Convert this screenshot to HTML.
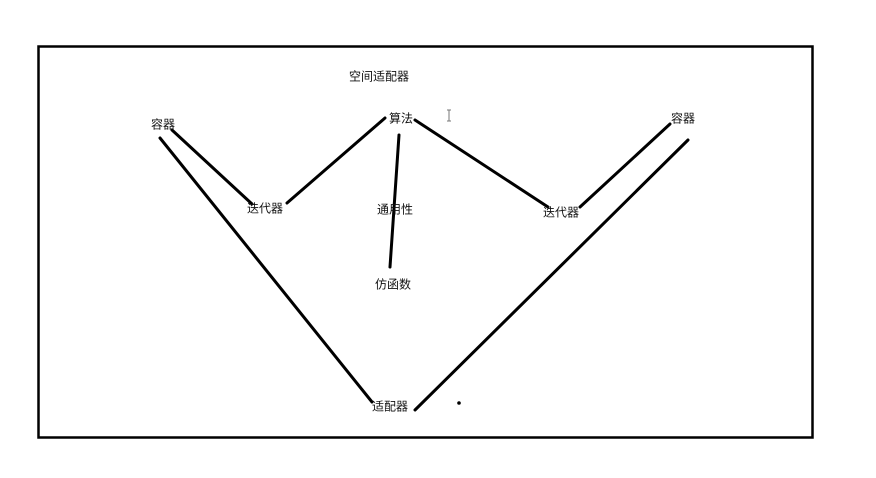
<!DOCTYPE html>
<html><head><meta charset="utf-8">
<style>
html,body{margin:0;padding:0;background:#fff;}
svg{display:block;}
text{font-family:"Liberation Sans","Noto Sans CJK SC","WenQuanYi Zen Hei",sans-serif;font-size:12px;fill:#111;text-anchor:middle;dominant-baseline:middle;}
</style></head>
<body>
<svg width="876" height="478" viewBox="0 0 876 478">
<rect x="38.5" y="46.5" width="774" height="391" fill="#fff" stroke="#000" stroke-width="2.5"/>
<g stroke="#000" stroke-width="3" stroke-linecap="round">
<line x1="172" y1="130" x2="252" y2="204"/>
<line x1="160" y1="138" x2="372" y2="402"/>
<line x1="287" y1="203" x2="385" y2="118"/>
<line x1="399" y1="135" x2="390" y2="267"/>
<line x1="415" y1="120" x2="548" y2="207"/>
<line x1="580" y1="207" x2="670" y2="124"/>
<line x1="688" y1="140" x2="415" y2="410"/>
</g>
<circle cx="459" cy="403" r="1.8" fill="#000"/>
<text x="379" y="77.5">空间适配器</text>
<text x="163" y="125.5">容器</text>
<text x="401" y="119.5">算法</text>
<text x="683" y="119.5">容器</text>
<text x="265" y="209.5">迭代器</text>
<text x="395" y="210.5">通用性</text>
<text x="561" y="213.5">迭代器</text>
<text x="393" y="285.5">仿函数</text>
<text x="390" y="407.5">适配器</text>
<g stroke="#777" stroke-width="1">
<line x1="449" y1="110" x2="449" y2="121"/>
<line x1="447" y1="110" x2="451" y2="110"/>
<line x1="447" y1="121" x2="451" y2="121"/>
</g>
</svg>
</body></html>
